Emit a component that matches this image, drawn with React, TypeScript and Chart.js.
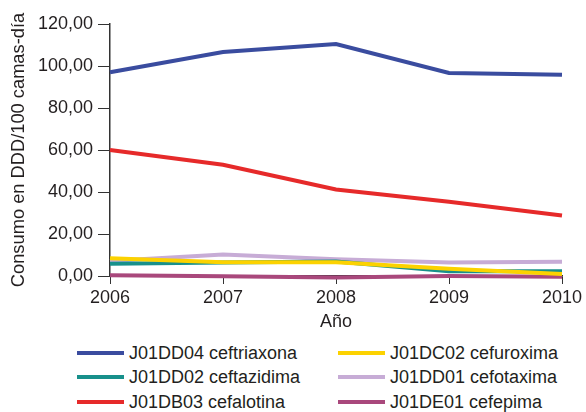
import React, { useEffect, useRef } from "react";
import { Chart, registerables } from "chart.js";

Chart.register(...registerables);

const years = ["2006", "2007", "2008", "2009", "2010"];
const ceftriaxona = [97, 106.7, 110.5, 96.7, 95.8];
const cefuroxima = [8.4, 6.6, 6.5, 3.4, 1.0];
const ceftazidima = [5.8, 6.4, 6.9, 2.3, 2.3];
const cefotaxima = [7.2, 10.2, 8.0, 6.4, 6.8];
const cefalotina = [60, 53, 41.2, 35.4, 28.8];
const cefepima = [0.3, -0.1, -0.7, 0.0, -0.3];
const seriesNames = [
  "J01DD04 ceftriaxona",
  "J01DC02 cefuroxima",
  "J01DD02 ceftazidima",
  "J01DD01 cefotaxima",
  "J01DB03 cefalotina",
  "J01DE01 cefepima",
];
const seriesColors = ["#3a4c9f", "#fcd200", "#17908b", "#c7acd6", "#e62a2a", "#a9487c"];
const yTicks = [0, 20, 40, 60, 80, 100, 120];

const FONT = "'Liberation Sans', Arial, Helvetica, sans-serif";
const TEXT = "#231f20";

export default function App() {
  const ref = useRef<HTMLCanvasElement>(null);
  useEffect(() => {
    const values = [ceftriaxona, cefuroxima, ceftazidima, cefotaxima, cefalotina, cefepima];
    const chart = new Chart(ref.current!, {
      type: "line",
      data: {
        labels: years,
        datasets: values.map((d, i) => ({
          label: seriesNames[i],
          data: d,
          borderColor: seriesColors[i],
          backgroundColor: seriesColors[i],
          borderWidth: 4,
          pointRadius: 0,
          tension: 0,
          clip: false as any,
        })),
      },
      options: {
        animation: false,
        responsive: false,
        devicePixelRatio: 1,
        layout: { padding: { top: 24, right: 24, left: 0, bottom: 0 } },
        plugins: { legend: { display: false }, tooltip: { enabled: false } },
        scales: {
          x: {
            type: "category",
            offset: false,
            grid: { drawOnChartArea: false, drawTicks: true, tickLength: 8, color: "#333" },
            border: { display: true, color: "#333", width: 1.5 },
            ticks: { color: TEXT, font: { family: FONT, size: 18 }, padding: 3, maxRotation: 0, autoSkip: false },
            title: { display: true, text: "Año", color: TEXT, font: { family: FONT, size: 18 }, padding: { top: 0, bottom: 2 } },
            afterFit: (s: any) => { s.height = 59; },
          },
          y: {
            min: 0,
            max: 120,
            afterBuildTicks: (s: any) => { s.ticks = yTicks.map((v) => ({ value: v })); },
            grid: { drawOnChartArea: false, drawTicks: true, tickLength: 12, color: "#333" },
            border: { display: true, color: "#333", width: 1.5 },
            ticks: {
              color: TEXT,
              font: { family: FONT, size: 18 },
              padding: 5,
              callback: (v: any) => Number(v).toFixed(2).replace(".", ","),
            },
            title: { display: true, text: "Consumo en DDD/100 camas-día", color: TEXT, font: { family: FONT, size: 18.3 }, padding: { top: 8, bottom: 0 } },
            afterFit: (s: any) => { s.width = 110; },
          },
        },
      },
    });
    return () => chart.destroy();
  }, []);

  const legendRows = [0, 1, 2, 3, 4, 5];
  return (
    <div style={{ position: "absolute", left: 0, top: 0, width: 586, height: 412, background: "#fff" }}>
      <canvas ref={ref} width={586} height={335} style={{ position: "absolute", left: 0, top: 0, width: 586, height: 335 }} />
      <div
        style={{
          position: "absolute",
          left: 77,
          top: 341,
          display: "grid",
          gridTemplateColumns: "261px 240px",
          gridAutoRows: "24.3px",
          fontFamily: FONT,
          fontSize: 18,
          color: TEXT,
        }}
      >
        {legendRows.map((i) => (
          <div key={i} style={{ display: "flex", alignItems: "center", whiteSpace: "nowrap", lineHeight: "24px" }}>
            <span style={{ display: "inline-block", width: 47, height: 4, background: seriesColors[i], marginRight: 5 }} />
            <span>{seriesNames[i]}</span>
          </div>
        ))}
      </div>
    </div>
  );
}
